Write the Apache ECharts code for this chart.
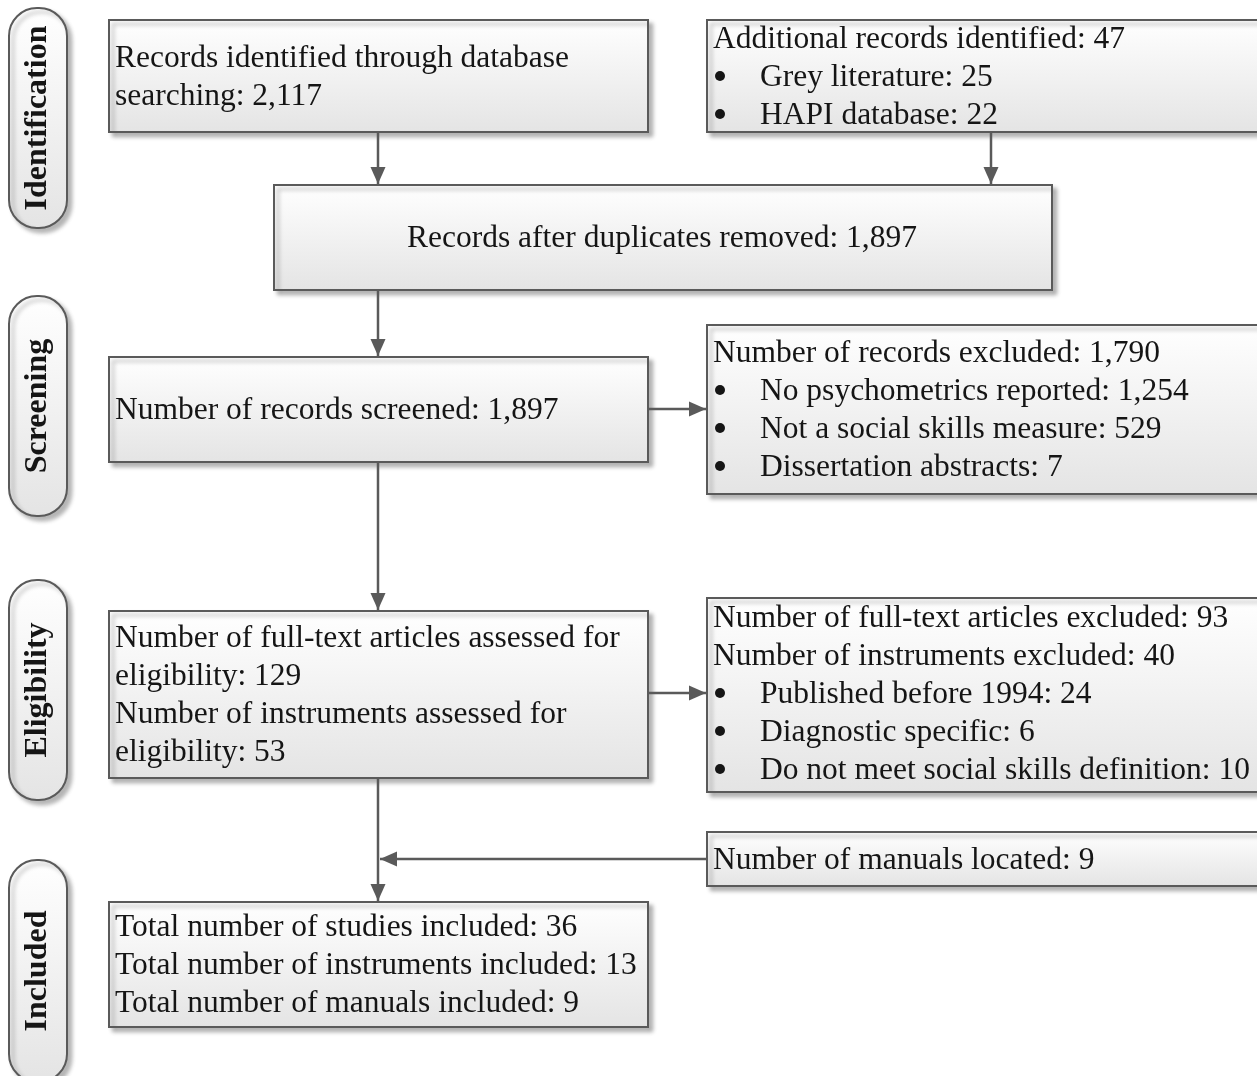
<!DOCTYPE html>
<html>
<head>
<meta charset="utf-8">
<script src="https://cdn.jsdelivr.net/npm/echarts@6/dist/echarts.min.js"></script>
<style>html,body{margin:0;padding:0;background:#fff;}#chart{width:1257px;height:1076px;}</style>
</head>
<body>
<div id="chart"></div>
<script>
// ---- Data (text content of the flow diagram) ----
const stageLabels = ['Identification', 'Screening', 'Eligibility', 'Included'];
const boxDatabase = ['Records identified through database', 'searching: 2,117'];
const boxAdditionalHead = ['Additional records identified: 47'];
const boxAdditionalBullets = ['Grey literature: 25', 'HAPI database: 22'];
const boxDuplicates = ['Records after duplicates removed: 1,897'];
const boxScreened = ['Number of records screened: 1,897'];
const boxExcludedHead = ['Number of records excluded: 1,790'];
const boxExcludedBullets = ['No psychometrics reported: 1,254', 'Not a social skills measure: 529', 'Dissertation abstracts: 7'];
const boxAssessed = ['Number of full-text articles assessed for', 'eligibility: 129', 'Number of instruments assessed for', 'eligibility: 53'];
const boxFullExcludedHead = ['Number of full-text articles excluded: 93', 'Number of instruments excluded: 40'];
const boxFullExcludedBullets = ['Published before 1994: 24', 'Diagnostic specific: 6', 'Do not meet social skills definition: 10'];
const boxManuals = ['Number of manuals located: 9'];
const boxIncluded = ['Total number of studies included: 36', 'Total number of instruments included: 13', 'Total number of manuals included: 9'];

// ---- Layout ----
const chart = echarts.init(document.getElementById('chart'));
const FONT = '"Liberation Serif", "Times New Roman", serif';
const FS = 31.5;
const LH = 38;
const DY = 2;
const TXT = '#151515';
const LINE = '#5a5a5a';
const g = [];

function grad() {
  return new echarts.graphic.LinearGradient(0, 0, 0, 1, [
    { offset: 0, color: '#ffffff' },
    { offset: 1, color: '#e4e4e4' }
  ]);
}
function box(x, y, w, h, r) {
  g.push({
    type: 'rect', shape: { x: x, y: y, width: w, height: h, r: r || 0 },
    style: { fill: grad(), stroke: LINE, lineWidth: 2,
      shadowColor: 'rgba(0,0,0,0.28)', shadowOffsetX: 4, shadowOffsetY: 4, shadowBlur: 4 },
    z: 2
  });
}
function lines(arr, x, y0, opts) {
  opts = opts || {};
  arr.forEach(function (t, i) {
    g.push({
      type: 'text', z: 5,
      style: { text: t, x: x, y: y0 + DY + i * LH, font: FS + 'px ' + FONT, fill: TXT,
        align: opts.align || 'left', verticalAlign: 'middle' }
    });
  });
}
function bullets(arr, y0) {
  arr.forEach(function (t, i) {
    g.push({ type: 'circle', shape: { cx: 720, cy: y0 + i * LH, r: 5 }, style: { fill: TXT }, z: 5 });
    g.push({
      type: 'text', z: 5,
      style: { text: t, x: 760, y: y0 + DY + i * LH, font: FS + 'px ' + FONT, fill: TXT, align: 'left', verticalAlign: 'middle' }
    });
  });
}
function seg(x1, y1, x2, y2) {
  g.push({ type: 'line', shape: { x1: x1, y1: y1, x2: x2, y2: y2 }, style: { stroke: LINE, lineWidth: 2.5 }, z: 3 });
}
function head(x, y, dir) {
  const L = 17, W = 7.5;
  let pts;
  if (dir === 'down') pts = [[x, y], [x - W, y - L], [x + W, y - L]];
  else if (dir === 'right') pts = [[x, y], [x - L, y - W], [x - L, y + W]];
  else pts = [[x, y], [x + L, y - W], [x + L, y + W]];
  g.push({ type: 'polygon', shape: { points: pts }, style: { fill: LINE }, z: 4 });
}
function arrow(x1, y1, x2, y2, dir) {
  seg(x1, y1, x2, y2);
  head(x2, y2, dir);
}

// stage labels
const stageY = [[8, 228], [296, 516], [580, 800], [860, 1082]];
stageLabels.forEach(function (s, i) {
  const y1 = stageY[i][0], y2 = stageY[i][1];
  box(9, y1, 58, y2 - y1, 28);
  g.push({
    type: 'text', z: 6, x: 38, y: (y1 + y2) / 2, rotation: Math.PI / 2,
    style: { text: s, x: 0, y: 0, font: 'bold 32px ' + FONT, fill: TXT, align: 'center', verticalAlign: 'middle' }
  });
});

// boxes
box(109, 20, 539, 112);
lines(boxDatabase, 115, 57);

box(707, 20, 570, 112);
lines(boxAdditionalHead, 713, 38);
bullets(boxAdditionalBullets, 76);

box(274, 185, 778, 105);
lines(boxDuplicates, 662, 237, { align: 'center' });

box(109, 357, 539, 105);
lines(boxScreened, 115, 409);

box(707, 325, 570, 169);
lines(boxExcludedHead, 713, 352);
bullets(boxExcludedBullets, 390);

box(109, 611, 539, 167);
lines(boxAssessed, 115, 637);

box(707, 598, 570, 194);
lines(boxFullExcludedHead, 713, 617);
bullets(boxFullExcludedBullets, 693);

box(707, 832, 570, 54);
lines(boxManuals, 713, 859);

box(109, 902, 539, 125);
lines(boxIncluded, 115, 926);

// arrows
arrow(378, 132, 378, 184, 'down');
arrow(991, 132, 991, 184, 'down');
arrow(378, 290, 378, 356, 'down');
arrow(648, 409, 706, 409, 'right');
arrow(378, 462, 378, 610, 'down');
arrow(648, 693, 706, 693, 'right');
arrow(378, 778, 378, 901, 'down');
arrow(707, 859, 380, 859, 'left');

chart.setOption({ backgroundColor: '#ffffff', animation: false, graphic: { elements: g } });
</script>
</body>
</html>
